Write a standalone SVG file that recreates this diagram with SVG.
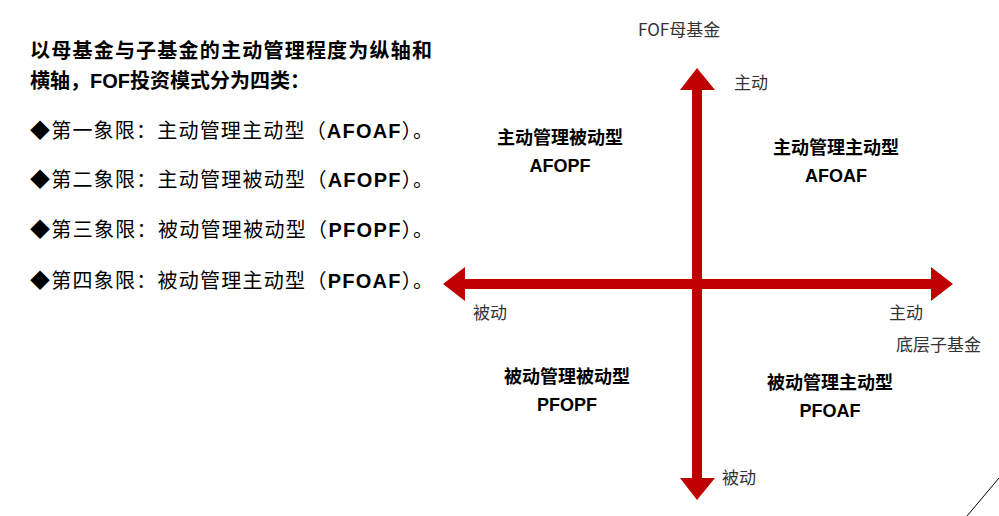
<svg xmlns="http://www.w3.org/2000/svg" width="999" height="516" viewBox="0 0 999 516">
<style>
.h{font-family:"Noto Sans CJK SC","Liberation Sans",sans-serif;font-size:20px;font-weight:bold;fill:#000}
.b{font-family:"Noto Sans CJK SC","Liberation Sans",sans-serif;font-size:20px;fill:#000}
.l{font-family:"Liberation Sans","Noto Sans CJK SC",sans-serif;font-weight:bold}
.q{font-family:"Liberation Sans","Noto Sans CJK SC",sans-serif;font-size:18px;font-weight:bold;text-anchor:middle;fill:#000}
.a{font-family:"Noto Sans CJK SC","Liberation Sans",sans-serif;font-size:17px;fill:#333}
</style>
<rect width="999" height="516" fill="#fff"/>
<g id="intro">
<text class="h" x="30" y="58" textLength="402">以母基金与子基金的主动管理程度为纵轴和</text>
<text class="h" x="30" y="88">横轴，<tspan class="l">FOF</tspan>投资模式分为四类：</text>
<text class="b" x="30" y="138" textLength="403">◆第一象限：主动管理主动型（<tspan class="l">AFOAF</tspan>）。</text>
<text class="b" x="30" y="187" textLength="403">◆第二象限：主动管理被动型（<tspan class="l">AFOPF</tspan>）。</text>
<text class="b" x="30" y="237" textLength="403">◆第三象限：被动管理被动型（<tspan class="l">PFOPF</tspan>）。</text>
<text class="b" x="30" y="288" textLength="403">◆第四象限：被动管理主动型（<tspan class="l">PFOAF</tspan>）。</text>
</g>
<g id="connectors" fill="#c00000">
<rect x="692" y="88" width="10" height="392"/>
<polygon points="697,68 680,90 715,90"/>
<polygon points="697,500 680,478 715,478"/>
<rect x="463" y="279" width="470" height="10"/>
<polygon points="443,284 465,267 465,301"/>
<polygon points="953,284 931,267 931,301"/>
<line x1="967" y1="516" x2="999" y2="478" stroke="#000" stroke-width="1"/>
</g>
<g id="axis-labels">
<text class="a" x="638" y="36">FOF母基金</text>
<text class="a" x="734" y="89">主动</text>
<text class="a" x="722" y="484">被动</text>
<text class="a" x="473" y="319">被动</text>
<text class="a" x="889" y="319">主动</text>
<text class="a" x="896" y="351">底层子基金</text>
</g>
<g id="q2"><text class="q" x="560" y="144">主动管理被动型</text><text class="q" x="560" y="172">AFOPF</text></g>
<g id="q1"><text class="q" x="836" y="154">主动管理主动型</text><text class="q" x="836" y="182">AFOAF</text></g>
<g id="q3"><text class="q" x="567" y="383">被动管理被动型</text><text class="q" x="567" y="411">PFOPF</text></g>
<g id="q4"><text class="q" x="830" y="389">被动管理主动型</text><text class="q" x="830" y="417">PFOAF</text></g>
</svg>
